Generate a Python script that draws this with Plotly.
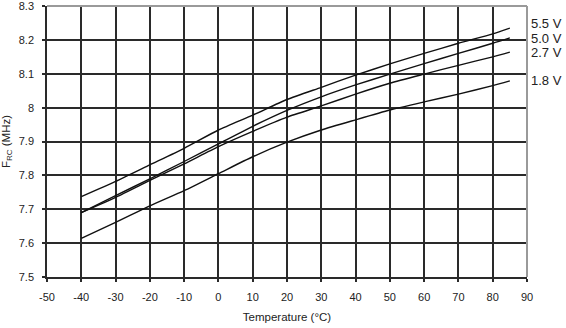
import plotly.graph_objects as go

# Oscillator frequency vs temperature for several supply voltages
temperature_c = [-40, -30, -20, -10, 0, 10, 20, 30, 40, 50, 60, 70, 80, 85]

freq_5v5 = [7.737, 7.782, 7.831, 7.880, 7.934, 7.978, 8.024, 8.060, 8.096, 8.129, 8.160, 8.190, 8.218, 8.235]
freq_5v0 = [7.690, 7.740, 7.790, 7.841, 7.893, 7.945, 7.992, 8.032, 8.067, 8.099, 8.130, 8.160, 8.190, 8.206]
freq_2v7 = [7.690, 7.735, 7.785, 7.834, 7.885, 7.930, 7.972, 8.005, 8.040, 8.072, 8.099, 8.125, 8.150, 8.164]
freq_1v8 = [7.614, 7.661, 7.710, 7.755, 7.805, 7.855, 7.898, 7.934, 7.964, 7.993, 8.017, 8.040, 8.065, 8.079]

series_names = ["5.5 V", "5.0 V", "2.7 V", "1.8 V"]
series_values = [freq_5v5, freq_5v0, freq_2v7, freq_1v8]

x_tick_vals = [-50, -40, -30, -20, -10, 0, 10, 20, 30, 40, 50, 60, 70, 80, 90]
x_tick_text = ["-50", "-40", "-30", "-20", "-10", "0", "10", "20", "30", "40", "50", "60", "70", "80", "90"]
y_tick_vals = [7.5, 7.6, 7.7, 7.8, 7.9, 8.0, 8.1, 8.2, 8.3]
y_tick_text = ["7.5", "7.6", "7.7", "7.8", "7.9", "8", "8.1", "8.2", "8.3"]

FONT = "Liberation Sans, Arial, sans-serif"
GRID = "#2a2a2a"
TEXT = "#222222"

# small vertical nudges so the voltage labels don't collide
label_shift_px = [5, -1, 0, 0]

fig = go.Figure()
for name, vals, dy in zip(series_names, series_values, label_shift_px):
    fig.add_trace(go.Scatter(
        x=temperature_c, y=vals, mode="lines", name=name,
        line=dict(color="#111111", width=1.4, shape="spline", smoothing=0.6),
        showlegend=False,
    ))
    # voltage label beside the end of each curve
    fig.add_annotation(
        x=1.0, xref="paper", y=vals[-1], yref="y",
        text=name, showarrow=False, xanchor="left", yanchor="middle",
        xshift=2, yshift=dy, font=dict(family=FONT, size=13, color=TEXT),
    )

# lighter frame on the top and right edges
fig.add_shape(type="line", xref="paper", yref="paper", x0=0, x1=1, y0=1, y1=1,
              line=dict(color="#9a9a9a", width=2), layer="above")
fig.add_shape(type="line", xref="paper", yref="paper", x0=1, x1=1, y0=0, y1=1,
              line=dict(color="#9a9a9a", width=2), layer="above")

fig.update_layout(
    width=566, height=328,
    margin=dict(l=47, r=39, t=6, b=51, autoexpand=False),
    paper_bgcolor="white", plot_bgcolor="white",
    font=dict(family=FONT, size=11, color=TEXT),
    xaxis=dict(
        range=[-50, 90.001], tickmode="array", tickvals=x_tick_vals, ticktext=x_tick_text,
        showgrid=True, gridcolor=GRID, gridwidth=1.6,
        showline=True, linecolor=GRID, linewidth=1.6,
        ticks="outside", ticklen=3, tickwidth=1.6, tickcolor=GRID,
        ticklabelstandoff=6, ticklabeloverflow="allow", zeroline=False,
        title=dict(text="Temperature (°C)", font=dict(size=11.5), standoff=11),
    ),
    yaxis=dict(
        range=[7.5, 8.3001], tickmode="array", tickvals=y_tick_vals, ticktext=y_tick_text,
        showgrid=True, gridcolor=GRID, gridwidth=1.6,
        showline=True, linecolor=GRID, linewidth=1.6,
        ticks="outside", ticklen=3, tickwidth=1.6, tickcolor=GRID,
        ticklabelstandoff=6, ticklabeloverflow="allow", zeroline=False,
        title=dict(text="F<sub>RC</sub> (MHz)", font=dict(size=11.5), standoff=8),
    ),
)

fig.write_html("out.html")
